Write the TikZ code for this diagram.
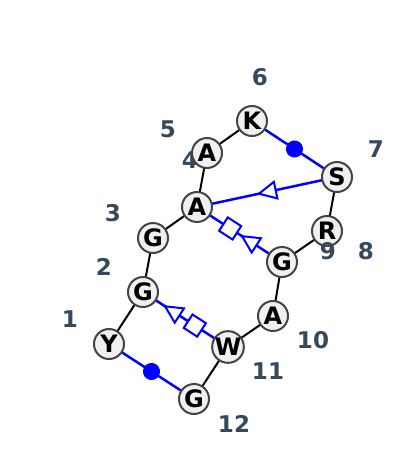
\documentclass[tikz,border=0pt]{standalone}
\usepackage{fontspec}
\setmainfont{DejaVu Sans}
\usetikzlibrary{decorations.markings, backgrounds}
\definecolor{lbl}{HTML}{34495E}
\definecolor{nfill}{HTML}{F0F0F0}
\definecolor{nborder}{HTML}{444444}
\begin{document}
\begin{tikzpicture}[x=1pt,y=-1pt,
  res/.style={circle, draw=nborder, fill=nfill, line width=2pt, minimum size=30pt, inner sep=0pt, text=black, font=\fontsize{24}{24}\selectfont\bfseries},
  num/.style={text=lbl, inner sep=0pt, font=\fontsize{23}{23}\selectfont\bfseries},
  bb/.style={line width=2pt, black},
  hb/.style={line width=2.5pt, blue},
  mtri/.style={blue, line width=2pt, fill=white},
  dotat/.style={postaction={decorate}, decoration={markings, mark=at position #1 with {\fill[blue] (0,0) circle (8.5pt);}}},
  triat/.style={postaction={decorate}, decoration={markings, mark=at position #1 with {\draw[mtri] (0,0) -- (-17pt,8.5pt) -- (-17pt,-8.5pt) -- cycle;}}},
  tsq/.style 2 args={postaction={decorate}, decoration={markings,
     mark=at position #1 with {\draw[mtri] (0,0) -- (-17pt,8.5pt) -- (-17pt,-8.5pt) -- cycle;},
     mark=at position #2 with {\draw[mtri] (-8pt,-8pt) rectangle (8pt,8pt);}}}
]
\useasboundingbox (0,0) rectangle (400,475);

% residue nodes
\node[res] (n1)  at (109,344) {Y};
\node[res] (n2)  at (143,292) {G};
\node[res] (n3)  at (153,238) {G};
\node[res] (n4)  at (197,207) {A};
\node[res] (n5)  at (207,153) {A};
\node[res] (n6)  at (252,121) {K};
\node[res] (n7)  at (337,177) {S};
\node[res] (n8)  at (327,231) {R};
\node[res] (n9)  at (282,262) {G};
\node[res] (n10) at (273,316) {A};
\node[res] (n11) at (228,347) {W};
\node[res] (n12) at (194,399) {G};

\begin{scope}[on background layer]
  \draw[bb] (n1.center) -- (n2.center);
  \draw[bb] (n2.center) -- (n3.center);
  \draw[bb] (n3.center) -- (n4.center);
  \draw[bb] (n4.center) -- (n5.center);
  \draw[bb] (n5.center) -- (n6.center);
  \draw[bb] (n7.center) -- (n8.center);
  \draw[bb] (n8.center) -- (n9.center);
  \draw[bb] (n9.center) -- (n10.center);
  \draw[bb] (n10.center) -- (n11.center);
  \draw[bb] (n11.center) -- (n12.center);
  \draw[hb, dotat=0.5] (n6.center) -- (n7.center);
  \draw[hb, dotat=0.5] (n1.center) -- (n12.center);
  \draw[hb, triat=0.557] (n7.center) -- (n4.center);
  \draw[hb, tsq={0.47}{0.61}] (n9.center) -- (n4.center);
  \draw[hb, tsq={0.74}{0.39}] (n11.center) -- (n2.center);
  \node[num] (l4) at (190,160) {4};
\end{scope}

\node[num] (l1)  at (70,319) {1};
\node[num] (l2)  at (104,267) {2};
\node[num] (l3)  at (113,213) {3};
\node[num] (l5)  at (168,129) {5};
\node[num] (l6)  at (260,77) {6};
\node[num] (l7)  at (376,149) {7};
\node[num] (l8)  at (366,251) {8};
\node[num] (l9)  at (328,251) {9};
\node[num] (l10) at (313,340) {10};
\node[num] (l11) at (268,371) {11};
\node[num] (l12) at (234,424) {12};
\end{tikzpicture}
\end{document}
